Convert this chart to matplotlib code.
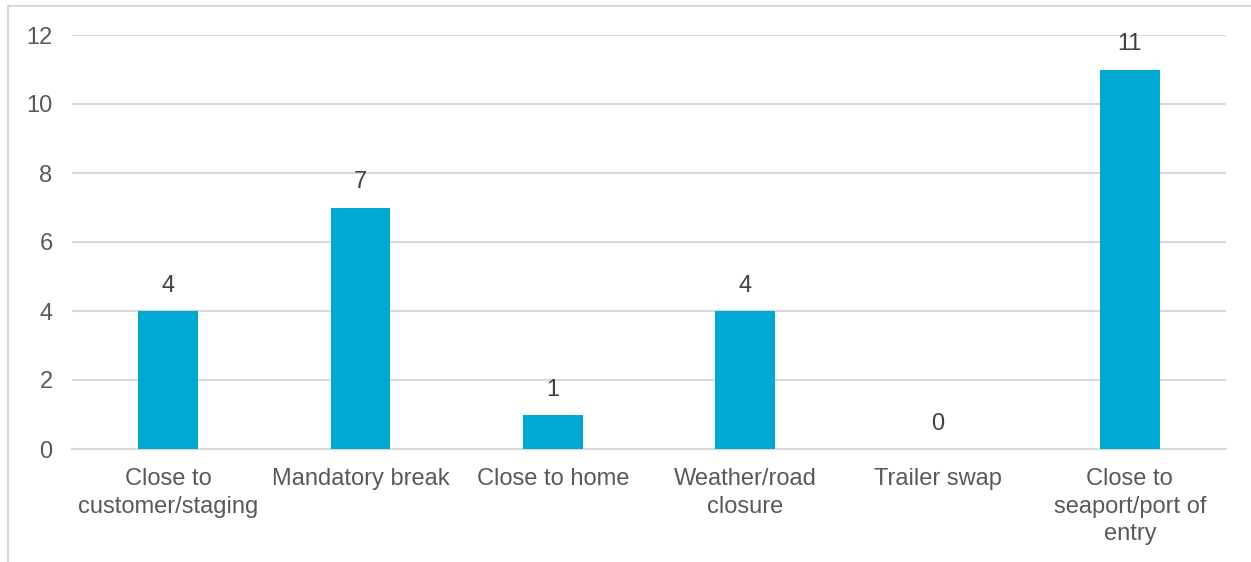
import matplotlib
matplotlib.use("Agg")
import matplotlib.pyplot as plt
from matplotlib.lines import Line2D

categories = ["Close to\ncustomer/staging", "Mandatory break", "Close to home",
              "Weather/road\nclosure", "Trailer swap", "Close to\nseaport/port of\nentry"]
values = [4, 7, 1, 4, 0, 11]
yticks = [0, 2, 4, 6, 8, 10, 12]

plt.rcParams['font.family'] = ['Liberation Sans', 'DejaVu Sans']

W, H = 1251, 562
fig = plt.figure(figsize=(W / 100, H / 100), dpi=100)
ax = fig.add_axes([72 / W, 1 - 449 / H, (1226 - 72) / W, (449 - 35) / H])

x = list(range(len(categories)))
bars = ax.bar(x, values, width=0.31, color='#00A9D4', zorder=3)
ax.set_xlim(-0.5, len(categories) - 0.5)
ax.set_ylim(0, 12)
ax.set_yticks(yticks)
ax.set_yticklabels([str(t) for t in yticks])
ax.set_xticks(x)
ax.set_xticklabels(categories, linespacing=1.3)
ax.tick_params(axis='both', length=0, labelsize=17, colors='#595959')
ax.tick_params(axis='y', pad=14)
ax.tick_params(axis='x', pad=14)
ax.grid(axis='y', color='#D9D9D9', linewidth=1.5, zorder=0)
for s in ['top', 'right', 'left']:
    ax.spines[s].set_visible(False)
ax.spines['bottom'].set_color('#D9D9D9')
ax.spines['bottom'].set_linewidth(1.5)

for xi, v in zip(x, values):
    ax.annotate(str(v), (xi, v), xytext=(0, 18), textcoords='offset points',
                ha='center', va='center', fontsize=17, color='#404040')

# outer chart frame (partially cropped)
fig.add_artist(Line2D([7.5 / W, 7.5 / W], [0, 1 - 6 / H], color='#D9D9D9', linewidth=1.5,
                      transform=fig.transFigure))
fig.add_artist(Line2D([7.5 / W, 1], [1 - 6 / H, 1 - 6 / H], color='#D9D9D9', linewidth=1.5,
                      transform=fig.transFigure))

fig.savefig("out.png", dpi=100)
